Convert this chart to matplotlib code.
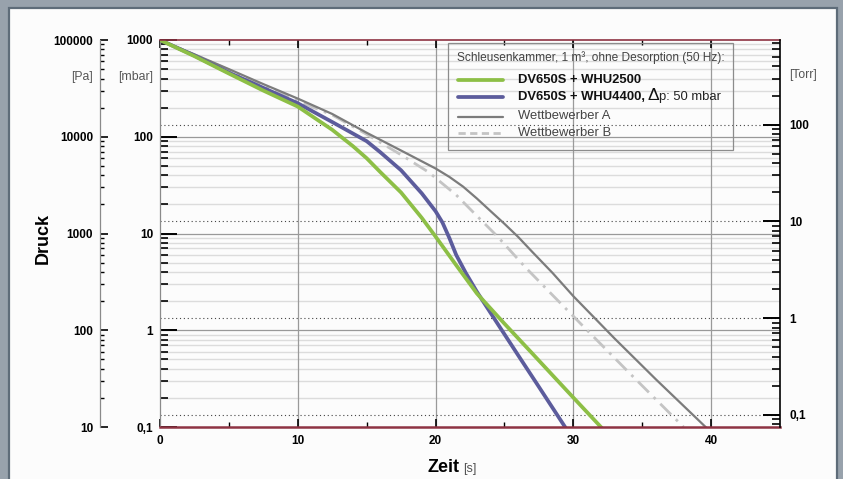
import numpy as np
import matplotlib
matplotlib.use("Agg")
import matplotlib.pyplot as plt
from matplotlib.patches import Rectangle
from matplotlib.lines import Line2D
from matplotlib.ticker import LogLocator, FixedLocator, NullFormatter

plt.rcParams['font.family'] = ['Liberation Sans', 'DejaVu Sans']

# --- data (Zeit [s], Druck [mbar]) ---
t_whu2500 = [0, 2.5, 5, 7.5, 10, 12.5, 14, 15, 16, 17.5, 19, 20, 21.5, 23, 25, 27, 29.5, 32]
p_whu2500 = [1000, 680, 450, 300, 205, 118, 80, 60, 43, 26.5, 14.5, 9.3, 4.7, 2.4, 1.17, 0.58, 0.24, 0.1]

t_whu4400 = [0, 2.5, 5, 7.5, 10, 12.5, 15, 16, 17.5, 19, 20, 20.5, 21, 21.5, 22.2, 23, 24.5, 26, 27.5, 29.4]
p_whu4400 = [1000, 690, 460, 320, 222, 142, 90, 69, 45, 26, 17, 13, 9, 6, 3.9, 2.5, 1.17, 0.55, 0.26, 0.1]

t_wettb_a = [0, 2.5, 5, 7.5, 10, 12.5, 15, 17.5, 20, 21, 22, 23, 24, 25, 26, 27, 28.5, 30, 33, 36, 39.6]
p_wettb_a = [1000, 710, 500, 350, 248, 172, 110, 72, 47, 38.5, 30.5, 23, 17, 12.6, 9.2, 6.5, 3.9, 2.25, 0.82, 0.31, 0.1]

t_wettb_b = [0, 2.5, 5, 7.5, 10, 12.5, 15, 17.5, 19.5, 21.5, 23, 24.5, 26.5, 28.5, 31, 34, 38]
p_wettb_b = [1000, 705, 490, 340, 234, 168, 106, 65, 43, 25, 15.2, 9.3, 4.5, 2.3, 1.0, 0.37, 0.1]

x_ticks = [0, 10, 20, 30, 40]
mbar_ticks = [0.1, 1, 10, 100, 1000]
mbar_labels = ['0,1', '1', '10', '100', '1000']
pa_ticks = [10, 100, 1000, 10000, 100000]
pa_labels = ['10', '100', '1000', '10000', '100000']
torr_ticks = [0.1, 1, 10, 100]
torr_labels = ['0,1', '1', '10', '100']

MBAR_TO_TORR = 0.750062
W, H = 843, 479
PX = 72 / 100  # points per pixel at dpi 100

C_GREEN = '#8dbf46'
C_BLUE = '#5c5c9c'
C_A = '#7c7c7c'
C_B = '#c4c4c4'
C_RED = '#8e3343'
TICK_FS = 8.5


def fx(px):
    return px / W


def fy(py):
    return 1 - py / H


fig = plt.figure(figsize=(W / 100, H / 100), dpi=100)
fig.patch.set_facecolor('#98a2ac')
panel = Rectangle((fx(9), fy(490)), fx(828), 490 / H - 8 / H,
                  transform=fig.transFigure, facecolor='#fcfcfc',
                  edgecolor='#5e6c79', linewidth=1.6, zorder=-5)
fig.patches.append(panel)

ax = fig.add_axes([fx(160), fy(427), fx(620), (427 - 40) / H])
ax.set_facecolor('none')
ax.set_yscale('log')
ax.set_xlim(0, 45)
ax.set_ylim(0.1, 1000)

# grid
for d in [0.1, 1, 10, 100]:
    for m in range(2, 10):
        ax.axhline(d * m, color='#dcdcdc', lw=1.0, zorder=1)
for d in mbar_ticks[1:-1]:
    ax.axhline(d, color='#999999', lw=0.9, zorder=1.5)
for x in x_ticks[1:]:
    ax.axvline(x, color='#9a9a9a', lw=0.9, zorder=1.5)
for tv in torr_ticks:
    ax.axhline(tv / MBAR_TO_TORR, color='#444444', lw=0.8, ls=(0, (1, 2.5)), zorder=1.6)

# curves
ax.plot(t_wettb_b, p_wettb_b, color=C_B, lw=2.0, ls=(0, (5.5, 2.4, 1.0, 2.4)), zorder=3,
        solid_capstyle='butt', solid_joinstyle='round')
ax.plot(t_wettb_a, p_wettb_a, color=C_A, lw=1.6, zorder=3.5, solid_joinstyle='round')
ax.plot(t_whu4400, p_whu4400, color=C_BLUE, lw=2.7, zorder=4, solid_joinstyle='round')
ax.plot(t_whu2500, p_whu2500, color=C_GREEN, lw=2.7, zorder=4.5, solid_joinstyle='round')

# spines
ax.spines['top'].set_color(C_RED)
ax.spines['top'].set_linewidth(1.2)
ax.spines['bottom'].set_color(C_RED)
ax.spines['bottom'].set_linewidth(1.8)
ax.spines['left'].set_color('#8a8a8a')
ax.spines['left'].set_linewidth(0.9)
ax.spines['right'].set_visible(False)
for s in ['top', 'bottom']:
    ax.spines[s].set_zorder(6)

ax.set_xticks(x_ticks)
ax.set_xticklabels([str(v) for v in x_ticks], fontweight='bold', fontsize=TICK_FS)
ax.xaxis.set_minor_locator(FixedLocator([5, 15, 25, 35]))
ax.tick_params(axis='x', which='major', direction='in', length=6, width=1.2,
               color='black', top=True, pad=6)
ax.tick_params(axis='x', which='minor', direction='in', length=3.5, width=1.0,
               color='black', top=True)

ax.set_yticks(mbar_ticks)
ax.set_yticklabels(mbar_labels, fontweight='bold', fontsize=TICK_FS)
ax.yaxis.set_minor_locator(LogLocator(base=10, subs=np.arange(2, 10)))
ax.yaxis.set_minor_formatter(NullFormatter())
ax.tick_params(axis='y', which='major', direction='in', length=12, width=1.4,
               color='black', pad=5)
ax.tick_params(axis='y', which='minor', direction='in', length=6, width=1.2,
               color='black')

# Pa axis (outer left, 60 px left of the mbar axis)
ax_pa = ax.twinx()
ax_pa.set_yscale('log')
ax_pa.set_ylim(0.1 * 100, 1000 * 100)
for s in ['top', 'bottom', 'right']:
    ax_pa.spines[s].set_visible(False)
ax_pa.spines['left'].set_position(('outward', 60 * PX))
ax_pa.spines['left'].set_color('#8a8a8a')
ax_pa.spines['left'].set_linewidth(0.9)
ax_pa.yaxis.set_ticks_position('left')
ax_pa.yaxis.set_label_position('left')
ax_pa.set_yticks(pa_ticks)
ax_pa.set_yticklabels(pa_labels, fontweight='bold', fontsize=TICK_FS)
ax_pa.yaxis.set_minor_locator(LogLocator(base=10, subs=np.arange(2, 10)))
ax_pa.yaxis.set_minor_formatter(NullFormatter())
ax_pa.tick_params(axis='y', which='major', direction='in', length=5.5, width=1.2,
                  color='black', pad=5)
ax_pa.tick_params(axis='y', which='minor', direction='in', length=3, width=1.0,
                  color='black')

# Torr axis (right)
ax_t = ax.twinx()
ax_t.set_yscale('log')
ax_t.set_ylim(0.1 * MBAR_TO_TORR, 1000 * MBAR_TO_TORR)
for s in ['top', 'bottom', 'left']:
    ax_t.spines[s].set_visible(False)
ax_t.spines['right'].set_color('black')
ax_t.spines['right'].set_linewidth(1.2)
ax_t.set_yticks(torr_ticks)
ax_t.set_yticklabels(torr_labels, fontweight='bold', fontsize=TICK_FS)
ax_t.yaxis.set_minor_locator(LogLocator(base=10, subs=np.arange(2, 10)))
ax_t.yaxis.set_minor_formatter(NullFormatter())
ax_t.tick_params(axis='y', which='major', direction='in', length=12, width=1.4,
                 color='black', pad=7)
ax_t.tick_params(axis='y', which='minor', direction='in', length=6, width=1.2,
                 color='black')

# unit labels
unit_kw = dict(fontsize=8.8, color='#555555', va='center')
fig.text(fx(93), fy(77), '[Pa]', ha='right', **unit_kw)
fig.text(fx(153), fy(77), '[mbar]', ha='right', **unit_kw)
fig.text(fx(789), fy(75), '[Torr]', ha='left', **unit_kw)

# axis titles
fig.text(fx(43), fy(238), 'Druck', rotation=90, ha='center', va='center',
         fontsize=13, fontweight='bold')
zeit = fig.text(fx(427), fy(472), 'Zeit', ha='left', va='baseline',
                fontsize=13, fontweight='bold')
fig.canvas.draw()
r = fig.canvas.get_renderer()
bb = zeit.get_window_extent(r)
fig.text(fx(bb.x1 + 4), fy(472), '[s]', ha='left', va='baseline',
         fontsize=9, color='#555555')

# legend (drawn by hand, transparent box)
fig.patches.append(Rectangle((fx(448), fy(150)), fx(733 - 448), (150 - 43) / H,
                             transform=fig.transFigure, facecolor='none',
                             edgecolor='#8c8c8c', linewidth=0.9, zorder=5))
fig.text(fx(457), fy(58), 'Schleusenkammer, 1 m³, ohne Desorption (50 Hz):',
         ha='left', va='center', fontsize=8.6, color='#444444')
entries = [
    (80, C_GREEN, 2.7, '-'),
    (97, C_BLUE, 2.7, '-'),
    (117, C_A, 1.6, '-'),
    (133, C_B, 2.0, (0, (2.6, 1.6))),
]
for yy, col, lw, ls in entries:
    fig.lines.append(Line2D([fx(458), fx(503)], [fy(yy), fy(yy)], color=col, lw=lw,
                            ls=ls, solid_capstyle='round', transform=fig.transFigure,
                            zorder=5))
fig.text(fx(518), fy(80), 'DV650S + WHU2500', ha='left', va='center',
         fontsize=9.4, fontweight='bold', color='#111111')
t1 = fig.text(fx(518), fy(97), 'DV650S + WHU4400, ', ha='left', va='center',
              fontsize=9.4, fontweight='bold', color='#111111')
fig.canvas.draw()
b1 = t1.get_window_extent(r)
t2 = fig.text(fx(b1.x1 - 1), fy(96), 'Δ', ha='left', va='center', fontsize=12.5,
              color='#111111')
fig.canvas.draw()
b2 = t2.get_window_extent(r)
fig.text(fx(b2.x1), fy(97), 'p: 50 mbar', ha='left', va='center', fontsize=9.4,
         color='#222222')
fig.text(fx(518), fy(116), 'Wettbewerber A', ha='left', va='center', fontsize=9.4,
         color='#444444')
fig.text(fx(518), fy(133), 'Wettbewerber B', ha='left', va='center', fontsize=9.4,
         color='#444444')

fig.savefig('out.png', dpi=100, facecolor=fig.get_facecolor())
